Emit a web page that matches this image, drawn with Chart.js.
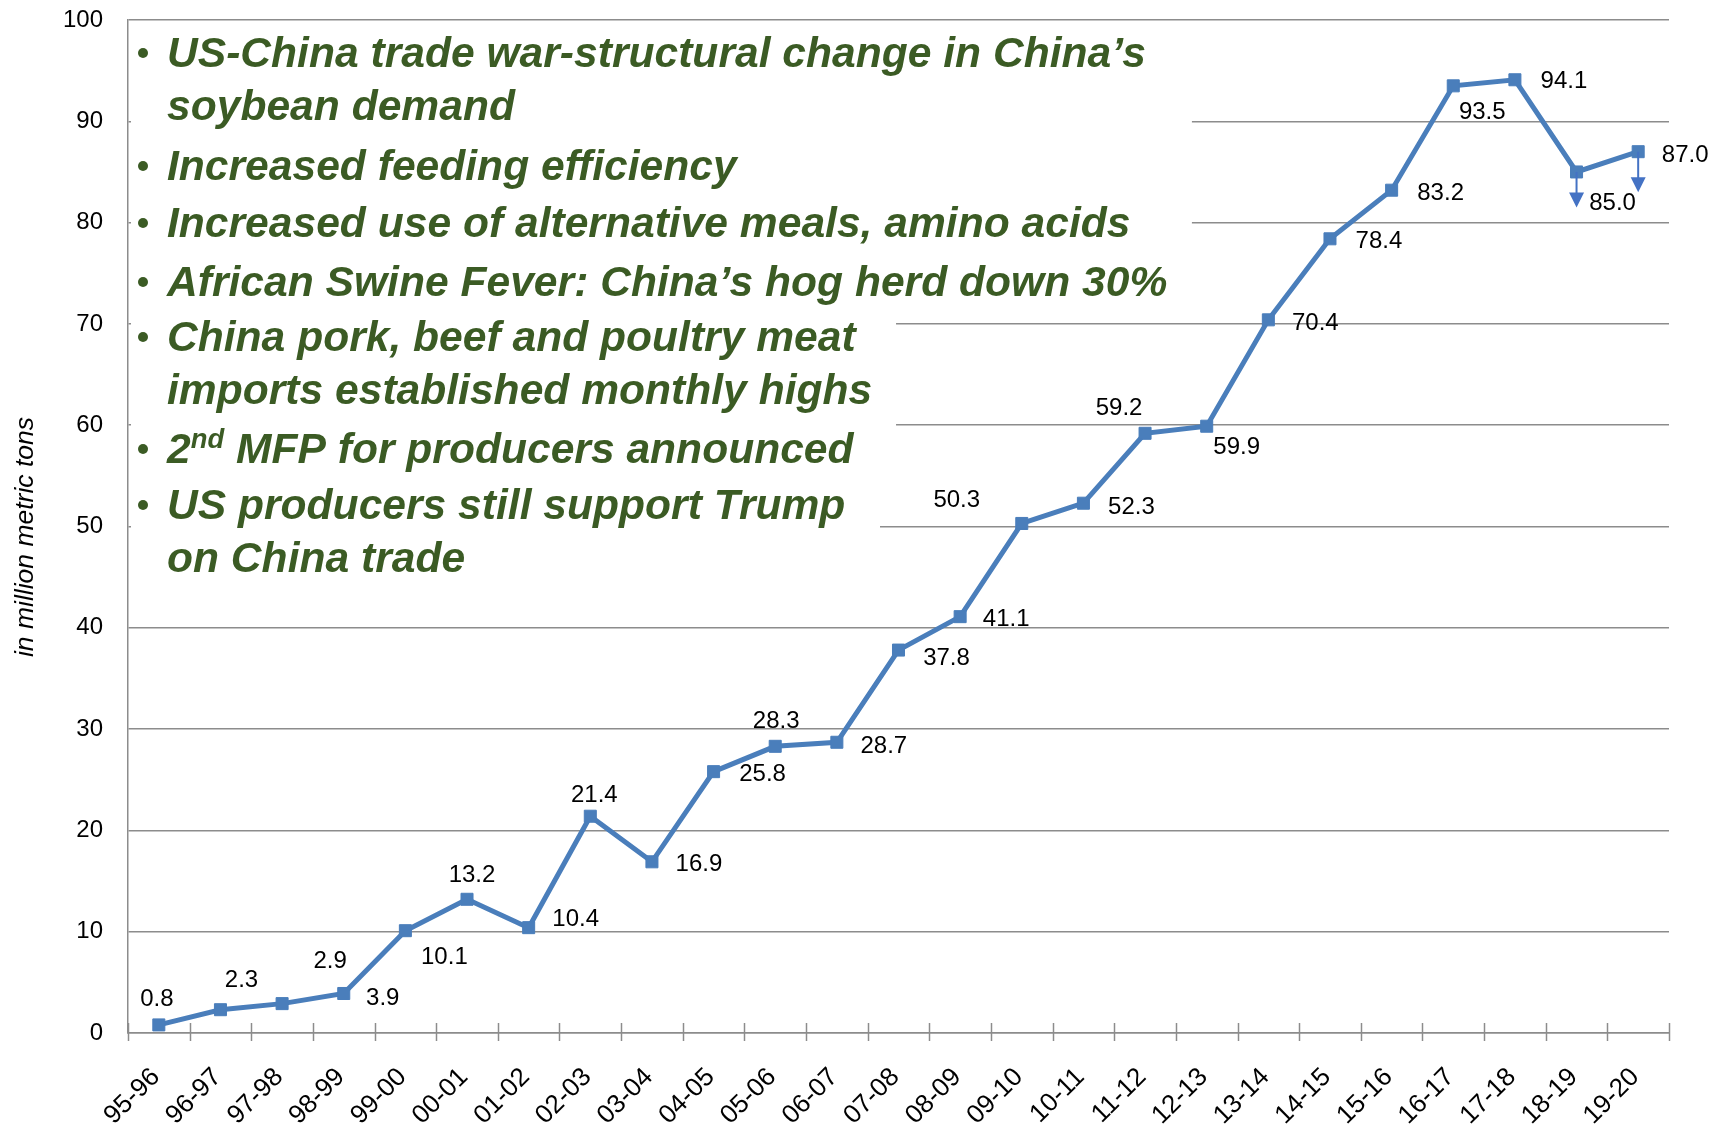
<!DOCTYPE html>
<html>
<head>
<meta charset="utf-8">
<script src="https://cdn.jsdelivr.net/npm/chart.js@4.4.1/dist/chart.umd.min.js"></script>
<style>
    html, body { margin: 0; padding: 0; background: #fff; }
    canvas { display: block; }
</style>
</head>
<body>
<canvas id="chart" width="1719" height="1130"></canvas>
<script>
// China soybean imports, million metric tons
const seasons = ['95-96', '96-97', '97-98', '98-99', '99-00', '00-01', '01-02', '02-03', '03-04', '04-05',
    '05-06', '06-07', '07-08', '08-09', '09-10', '10-11', '11-12', '12-13', '13-14', '14-15',
    '15-16', '16-17', '17-18', '18-19', '19-20'];
const imports = [0.8, 2.3, 2.9, 3.9, 10.1, 13.2, 10.4, 21.4, 16.9, 25.8,
    28.3, 28.7, 37.8, 41.1, 50.3, 52.3, 59.2, 59.9, 70.4, 78.4,
    83.2, 93.5, 94.1, 85.0, 87.0];
const yTicks = [0, 10, 20, 30, 40, 50, 60, 70, 80, 90, 100];
const yTitle = 'in million metric tons';

// downward revision arrows
const arrowSeasons = ['18-19', '19-20'];
const arrowTo = [81.5, 83.0];

const notes = [
    ['US-China trade war-structural change in China\u2019s', 'soybean demand'],
    ['Increased feeding efficiency'],
    ['Increased use of alternative meals, amino acids'],
    ['African Swine Fever: China\u2019s hog herd down 30%'],
    ['China pork, beef and poultry meat', 'imports established monthly highs'],
    ['2|nd| MFP for producers announced'],
    ['US producers still support Trump', 'on China trade']
];

// where each value label sits relative to its point (px)
const labelShift = [[-2, -26], [21, -29], [48, -42], [39, 5], [39, 27], [5, -24], [47, -8], [4, -21], [47, 3], [49, 3],
    [1, -25], [47, 4], [48, 8], [46, 3], [-65, -23], [48, 4], [-26, -25], [30, 21], [47, 4], [49, 3],
    [49, 3], [29, 27], [49, 2], [36, 31], [47, 4]];
const noteBaselines = [67, 120, 180, 237, 296, 351, 404, 463, 519, 572];
// white panel behind the notes: [top value, bottom value, right edge in category units]
const noteBoxes = [[99.8, 71.4, 16.76], [71.4, 54.5, 11.96], [54.5, 44, 11.7]];

const FONT = '"Liberation Sans", Arial, sans-serif';
const GREEN = '#3b5b24';
const GRID = '#8c8c8c';

const overlay = {
    id: 'overlay',
    beforeDatasetsDraw(chart) {
        const { ctx, scales: { x, y } } = chart;
        ctx.save();
        ctx.fillStyle = '#fff';
        const left = x.left + 3;
        noteBoxes.forEach(([top, bottom, right]) => {
            const t = y.getPixelForValue(top);
            const b = y.getPixelForValue(bottom);
            ctx.fillRect(left, t, x.getPixelForValue(right) - left, b - t);
        });
        ctx.restore();
    },
    afterDatasetsDraw(chart) {
        const { ctx, scales: { x, y } } = chart;
        const meta = chart.getDatasetMeta(0);
        ctx.save();

        // category tick marks crossing the axis
        ctx.strokeStyle = GRID;
        ctx.lineWidth = 1.5;
        for (let i = 0; i <= seasons.length; i++) {
            const px = Math.round(x.getPixelForValue(i - 0.5)) + 0.5;
            ctx.beginPath();
            ctx.moveTo(px, y.bottom - 10);
            ctx.lineTo(px, y.bottom + 8);
            ctx.stroke();
        }

        // value labels
        ctx.fillStyle = '#000';
        ctx.font = '24px ' + FONT;
        ctx.textAlign = 'center';
        ctx.textBaseline = 'middle';
        meta.data.forEach((pt, i) => {
            ctx.fillText(imports[i].toFixed(1), pt.x + labelShift[i][0], pt.y + labelShift[i][1]);
        });

        // arrows
        ctx.strokeStyle = '#4472c4';
        ctx.fillStyle = '#4472c4';
        ctx.lineWidth = 2;
        arrowSeasons.forEach((s, i) => {
            const idx = seasons.indexOf(s);
            const px = x.getPixelForValue(idx);
            const y0 = y.getPixelForValue(imports[idx]);
            const y1 = y.getPixelForValue(arrowTo[i]);
            ctx.beginPath();
            ctx.moveTo(px, y0);
            ctx.lineTo(px, y1 - 14);
            ctx.stroke();
            ctx.beginPath();
            ctx.moveTo(px - 7.5, y1 - 15);
            ctx.lineTo(px + 7.5, y1 - 15);
            ctx.lineTo(px, y1);
            ctx.closePath();
            ctx.fill();
        });
        ctx.restore();
    },
    afterDraw(chart) {
        const { ctx } = chart;
        ctx.save();

        // y axis title
        ctx.save();
        ctx.translate(33, 537);
        ctx.rotate(-Math.PI / 2);
        ctx.font = 'italic 26.5px ' + FONT;
        ctx.fillStyle = '#000';
        ctx.textAlign = 'center';
        ctx.textBaseline = 'alphabetic';
        ctx.fillText(yTitle, 0, 0);
        ctx.restore();

        ctx.font = 'italic bold 42px ' + FONT;
        const sx = 979 / ctx.measureText(notes[0][0]).width;
        ctx.fillStyle = GREEN;
        ctx.textBaseline = 'alphabetic';
        let row = 0;
        notes.forEach(lines => {
            lines.forEach((line, j) => {
                const base = noteBaselines[row++];
                if (j === 0) {
                    ctx.beginPath();
                    ctx.arc(143, base - 14, 5, 0, Math.PI * 2);
                    ctx.fill();
                }
                ctx.save();
                ctx.translate(167, base);
                ctx.scale(sx, 1);
                let cx = 0;
                line.split('|').forEach((part, k) => {
                    if (k % 2 === 1) {
                        ctx.font = 'italic bold 27px ' + FONT;
                        ctx.fillText(part, cx, -15);
                    } else {
                        ctx.font = 'italic bold 42px ' + FONT;
                        ctx.fillText(part, cx, 0);
                    }
                    cx += ctx.measureText(part).width;
                });
                ctx.restore();
            });
        });
        ctx.restore();
    }
};

new Chart(document.getElementById('chart'), {
    type: 'line',
    data: {
        labels: seasons,
        datasets: [{
            data: imports,
            borderColor: '#4a7ebb',
            borderWidth: 5,
            pointStyle: 'rect',
            pointRadius: 8.5,
            pointBackgroundColor: '#4a7ebb',
            pointBorderColor: '#4a7ebb',
            pointBorderWidth: 1,
            tension: 0
        }]
    },
    options: {
        responsive: false,
        animation: false,
        layout: { padding: { top: 20, right: 50, left: 0, bottom: 0 } },
        plugins: { legend: { display: false }, tooltip: { enabled: false } },
        scales: {
            x: {
                offset: true,
                grid: { display: false },
                border: { display: true, color: GRID, width: 1.5 },
                ticks: {
                    autoSkip: false,
                    minRotation: 45,
                    maxRotation: 45,
                    padding: 21,
                    labelOffset: -3,
                    color: '#000',
                    font: { family: FONT, size: 26 }
                },
                afterFit(scale) {
                    scale.height = 97;
                    scale.paddingLeft = 0;
                    scale.paddingRight = 0;
                }
            },
            y: {
                min: 0,
                max: 100,
                afterBuildTicks(scale) { scale.ticks = yTicks.map(v => ({ value: v })); },
                grid: { color: GRID, lineWidth: 1.5, drawTicks: false },
                border: { display: true, color: GRID, width: 1.5 },
                ticks: {
                    padding: 25,
                    color: '#000',
                    font: { family: FONT, size: 24 }
                },
                afterFit(scale) {
                    scale.width = 128;
                    scale.paddingTop = 0;
                    scale.paddingBottom = 0;
                }
            }
        }
    },
    plugins: [overlay]
});
</script>
</body>
</html>
